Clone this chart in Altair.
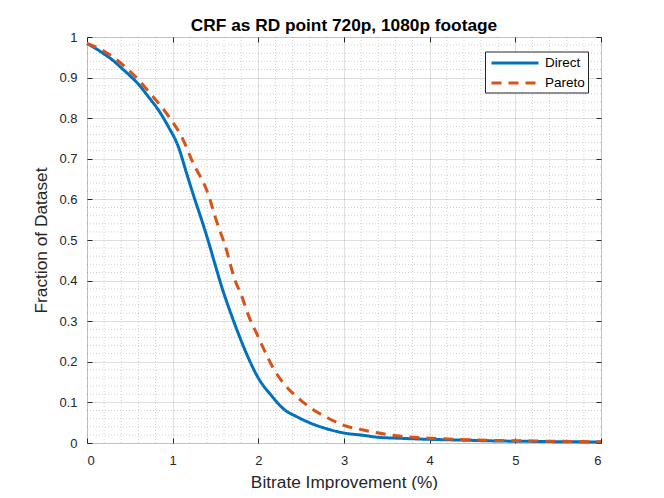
import altair as alt
import pandas as pd

# ---- data ----
direct_x = [0, 0.1, 0.2, 0.3, 0.385, 0.5, 0.6, 0.716, 0.85, 0.95, 1.066, 1.163, 1.26, 1.339,
            1.43, 1.514, 1.572, 1.669, 1.766, 1.864, 2.0, 2.156, 2.311, 2.447, 2.62, 2.817,
            2.99, 3.22, 3.4, 3.61, 4.0, 4.4, 4.78, 5.2, 5.6, 6.0]
direct_y = [0.984, 0.972, 0.958, 0.943, 0.927, 0.905, 0.884, 0.853, 0.815, 0.779, 0.730, 0.664,
            0.599, 0.549, 0.487, 0.426, 0.385, 0.325, 0.270, 0.219, 0.160, 0.116, 0.081, 0.065,
            0.048, 0.034, 0.025, 0.019, 0.014, 0.012, 0.009, 0.007, 0.005, 0.004, 0.003, 0.0025]
pareto_x = [0, 0.2, 0.463, 0.6, 0.755, 0.969, 1.105, 1.24, 1.397, 1.533, 1.61, 1.727, 1.806,
            1.883, 1.98, 2.078, 2.175, 2.311, 2.447, 2.62, 2.817, 2.99, 3.225, 3.65, 4.08,
            4.55, 5.17, 5.87, 6.0]
pareto_y = [0.984, 0.965, 0.923, 0.895, 0.857, 0.80, 0.754, 0.689, 0.623, 0.533, 0.488, 0.401,
            0.362, 0.315, 0.27, 0.225, 0.184, 0.143, 0.114, 0.085, 0.061, 0.044, 0.032, 0.017,
            0.011, 0.0074, 0.005, 0.0033, 0.003]
series_names = ["Direct", "Pareto"]
series_colors = ["#0072BD", "#D95319"]
x_ticks = [0, 1, 2, 3, 4, 5, 6]
y_ticks = [0, 0.1, 0.2, 0.3, 0.4, 0.5, 0.6, 0.7, 0.8, 0.9, 1.0]
x_minor = [round(0.2 * i, 2) for i in range(31) if i % 5 != 0]
y_minor = [round(0.02 * i, 2) for i in range(51) if i % 5 != 0]

FONT = "Liberation Sans"
AX = "#262626"

df = pd.DataFrame({
    "x": direct_x + pareto_x,
    "y": direct_y + pareto_y,
    "series": ["Direct"] * len(direct_x) + ["Pareto"] * len(pareto_x),
})

xs = alt.Scale(domain=[0, 6], nice=False, zero=False)
ys = alt.Scale(domain=[0, 1], nice=False, zero=False)

common_axis = dict(domain=False, tickColor=AX, tickSize=5, offset=-5, tickWidth=1)

minor_x = alt.Chart(pd.DataFrame({"v": x_minor})).mark_rule(
    color=AX, opacity=0.3, strokeDash=[1, 2], strokeWidth=0.7
).encode(
    x=alt.X("v:Q", scale=xs, title="",
            axis=alt.Axis(orient="top", values=x_ticks, labels=False, grid=False, **common_axis))
)

minor_y = alt.Chart(pd.DataFrame({"v": y_minor})).mark_rule(
    color=AX, opacity=0.3, strokeDash=[1, 2], strokeWidth=0.7
).encode(
    y=alt.Y("v:Q", scale=ys, title="",
            axis=alt.Axis(orient="right", values=y_ticks, labels=False, grid=False, **common_axis))
)

legend = alt.Legend(
    title=None, orient="none", legendX=398, legendY=14.5,
    symbolType="M-0.714,0H6", symbolSize=196, symbolStrokeWidth=3,
    labelFont=FONT, labelFontSize=13.5, labelColor="#000000", labelOffset=40,
    padding=3, rowPadding=5, strokeColor=AX, fillColor="#ffffff", cornerRadius=0,
)

lines = alt.Chart(df).mark_line(strokeWidth=3, interpolate="monotone").encode(
    x=alt.X("x:Q", scale=xs, title="Bitrate Improvement (%)",
            axis=alt.Axis(orient="bottom", values=x_ticks, format="~g", grid=True,
                          gridColor=AX, gridOpacity=0.15, labelPadding=11,
                          labelFont=FONT, labelFontSize=13, labelColor=AX,
                          titleFont=FONT, titleFontSize=17.3, titleFontWeight="normal",
                          titleColor=AX, titlePadding=6, **common_axis)),
    y=alt.Y("y:Q", scale=ys, title="Fraction of Dataset",
            axis=alt.Axis(orient="left", values=y_ticks, format="~g", grid=True,
                          gridColor=AX, gridOpacity=0.15, labelPadding=10,
                          labelFont=FONT, labelFontSize=13, labelColor=AX,
                          titleFont=FONT, titleFontSize=17.3, titleFontWeight="normal",
                          titleColor=AX, titlePadding=8, **common_axis)),
    color=alt.Color("series:N", scale=alt.Scale(domain=series_names, range=series_colors),
                    legend=legend),
    strokeDash=alt.StrokeDash("series:N",
                              scale=alt.Scale(domain=series_names, range=[[1, 0], [10, 7]]),
                              legend=legend),
    order=alt.Order("x:Q"),
)

chart = alt.layer(minor_x, minor_y, lines).resolve_axis(
    x="independent", y="independent"
).properties(
    width=514, height=406,
    title=alt.TitleParams("CRF as RD point 720p, 1080p footage", font=FONT, fontSize=17.3,
                          fontWeight="bold", color="#000000", offset=-3.5),
    autosize="none",
    padding={"left": 79, "top": 29, "right": 55, "bottom": 47},
).configure_view(stroke=AX, strokeWidth=1).configure(background="#ffffff")

chart.save("out.html", embed_options={"renderer": "svg", "actions": False})
